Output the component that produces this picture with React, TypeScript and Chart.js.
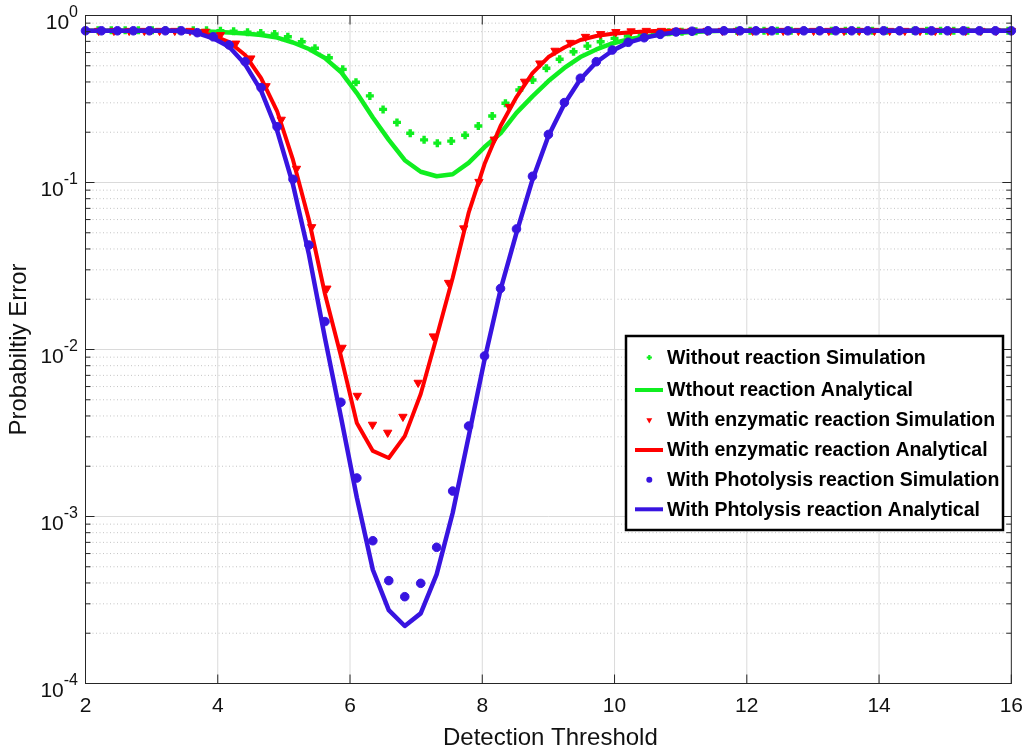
import { useEffect, useRef } from 'react';
import { Chart, registerables } from 'chart.js';

Chart.register(...registerables);

// ---------- data ----------
const thresholdsAnalytical = [
  2.000, 2.241, 2.483, 2.724, 2.966, 3.207, 3.448, 3.690, 3.931, 4.172,
  4.414, 4.655, 4.897, 5.138, 5.379, 5.621, 5.862, 6.103, 6.345, 6.586,
  6.828, 7.069, 7.310, 7.552, 7.793, 8.034, 8.276, 8.517, 8.759, 9.000,
  9.241, 9.483, 9.724, 9.966, 10.207, 10.448, 10.690, 10.931, 11.172, 11.414,
  11.655, 11.897, 12.138, 12.379, 12.621, 12.862, 13.103, 13.345, 13.586, 13.828,
  14.069, 14.310, 14.552, 14.793, 15.034, 15.276, 15.517, 15.759, 16.000,
];
const thresholdsSimPhotolysis = thresholdsAnalytical;
const thresholdsSimNoReaction = [
  2.19, 2.39, 2.60, 2.80, 3.01, 3.21, 3.42, 3.63, 3.83, 4.04,
  4.24, 4.45, 4.65, 4.86, 5.06, 5.27, 5.47, 5.68, 5.89, 6.09,
  6.30, 6.50, 6.71, 6.91, 7.12, 7.32, 7.53, 7.74, 7.94, 8.15,
  8.35, 8.56, 8.76, 8.97, 9.17, 9.38, 9.59, 9.79, 10.00, 10.20,
  10.41, 10.61, 10.82, 11.02, 11.23, 11.43, 11.64, 11.85, 12.05, 12.26,
  12.46, 12.67, 12.87, 13.08, 13.28, 13.49, 13.69, 13.90, 14.11, 14.31,
  14.52, 14.72, 14.93, 15.13, 15.34, 15.54, 15.75, 15.95,
];
const thresholdsSimEnzymatic = [
  2.20, 2.43, 2.66, 2.89, 3.12, 3.35, 3.58, 3.81, 4.04, 4.27,
  4.50, 4.73, 4.96, 5.19, 5.42, 5.65, 5.88, 6.11, 6.34, 6.57,
  6.80, 7.03, 7.26, 7.49, 7.72, 7.95, 8.18, 8.41, 8.64, 8.87,
  9.10, 9.33, 9.56, 9.79, 10.02, 10.25, 10.48, 10.71, 10.94, 11.17,
  11.40, 11.63, 11.86, 12.09, 12.32, 12.55, 12.78, 13.01, 13.24, 13.47,
  13.70, 13.93, 14.16, 14.39, 14.62, 14.85, 15.08, 15.31, 15.54, 15.77,
  16.00,
];

const simNoReaction = [
  0.815, 0.815, 0.815, 0.815, 0.815, 0.815, 0.815, 0.815, 0.815, 0.81,
  0.805, 0.795, 0.785, 0.775, 0.746, 0.697, 0.636, 0.559, 0.476, 0.398,
  0.330, 0.274, 0.229, 0.197, 0.180, 0.172, 0.177, 0.192, 0.218, 0.250,
  0.298, 0.358, 0.411, 0.483, 0.547, 0.607, 0.656, 0.697, 0.730, 0.754,
  0.772, 0.785, 0.795, 0.800, 0.805, 0.81, 0.81, 0.81, 0.81, 0.81,
  0.81, 0.81, 0.81, 0.81, 0.81, 0.81, 0.81, 0.81, 0.81, 0.81,
  0.81, 0.81, 0.81, 0.81, 0.81, 0.81, 0.81, 0.81,
];
const anaNoReaction = [
  0.81, 0.81, 0.81, 0.81, 0.81, 0.81, 0.81, 0.805, 0.80, 0.79,
  0.78, 0.764, 0.738, 0.689, 0.63, 0.556, 0.459, 0.343, 0.245, 0.180,
  0.136, 0.116, 0.109, 0.112, 0.131, 0.163, 0.197, 0.261, 0.328, 0.405,
  0.485, 0.564, 0.626, 0.68, 0.72, 0.746, 0.77, 0.786, 0.797, 0.805,
  0.81, 0.81, 0.81, 0.81, 0.81, 0.81, 0.81, 0.81, 0.81, 0.81,
  0.81, 0.81, 0.81, 0.81, 0.81, 0.81, 0.81, 0.81, 0.81,
];
const simEnzymatic = [
  0.81, 0.81, 0.81, 0.81, 0.81, 0.81, 0.81, 0.80, 0.764, 0.680,
  0.554, 0.378, 0.238, 0.121, 0.0541, 0.0232, 0.01026, 0.00529, 0.00355, 0.00318,
  0.00396, 0.00633, 0.0120, 0.0251, 0.0532, 0.101, 0.181, 0.284, 0.402, 0.517,
  0.616, 0.687, 0.746, 0.775, 0.797, 0.805, 0.81, 0.81, 0.81, 0.81,
  0.81, 0.81, 0.81, 0.81, 0.81, 0.81, 0.81, 0.81, 0.81, 0.81,
  0.81, 0.81, 0.81, 0.81, 0.81, 0.81, 0.81, 0.81, 0.81, 0.81,
  0.81,
];
const anaEnzymatic = [
  0.81, 0.81, 0.81, 0.81, 0.81, 0.81, 0.81, 0.796, 0.759, 0.694,
  0.580, 0.422, 0.268, 0.1364, 0.0596, 0.0215, 0.00914, 0.00363, 0.00247, 0.00224,
  0.00303, 0.00542, 0.01188, 0.0268, 0.0657, 0.129, 0.218, 0.325, 0.452, 0.564,
  0.643, 0.713, 0.754, 0.777, 0.791, 0.802, 0.81, 0.81, 0.81, 0.81,
  0.81, 0.81, 0.81, 0.81, 0.81, 0.81, 0.81, 0.81, 0.81, 0.81,
  0.81, 0.81, 0.81, 0.81, 0.81, 0.81, 0.81, 0.81, 0.81,
];
const simPhotolysis = [
  0.81, 0.81, 0.81, 0.81, 0.81, 0.81, 0.81, 0.789, 0.746, 0.666,
  0.529, 0.370, 0.216, 0.1045, 0.0422, 0.0147, 0.00483, 0.0017, 0.000716, 0.000413,
  0.000331, 0.000398, 0.000654, 0.00142, 0.00348, 0.00914, 0.0232, 0.0527, 0.109, 0.194,
  0.301, 0.421, 0.529, 0.621, 0.691, 0.736, 0.771, 0.797, 0.805, 0.81,
  0.81, 0.81, 0.81, 0.81, 0.81, 0.81, 0.81, 0.81, 0.81, 0.81,
  0.81, 0.81, 0.81, 0.81, 0.81, 0.81, 0.81, 0.81, 0.81,
];
const anaPhotolysis = [
  0.81, 0.81, 0.81, 0.81, 0.81, 0.81, 0.81, 0.785, 0.73, 0.65,
  0.51, 0.355, 0.205, 0.097, 0.037, 0.0117, 0.00396, 0.0013, 0.00048, 0.000275,
  0.000221, 0.000263, 0.00045, 0.00105, 0.0030, 0.0087, 0.0228, 0.050, 0.104, 0.190,
  0.295, 0.415, 0.525, 0.615, 0.688, 0.735, 0.77, 0.795, 0.805, 0.81,
  0.81, 0.81, 0.81, 0.81, 0.81, 0.81, 0.81, 0.81, 0.81, 0.81,
  0.81, 0.81, 0.81, 0.81, 0.81, 0.81, 0.81, 0.81, 0.81,
];

const xTicks = [2, 4, 6, 8, 10, 12, 14, 16];
const yDecades = [1, 0.1, 0.01, 0.001, 0.0001];
const yExponents = ['0', '-1', '-2', '-3', '-4'];
const yMinorMultipliers = [2, 3, 4, 5, 6, 7, 8, 9];
const legendLabels = [
  'Without reaction Simulation',
  'Wthout reaction Analytical',
  'With enzymatic reaction Simulation',
  'With enzymatic reaction Analytical',
  'With Photolysis reaction Simulation',
  'With Phtolysis reaction Analytical',
];
const xTitle = 'Detection Threshold';
const yTitle = 'Probabiltiy Error';

// ---------- style ----------
const GREEN = '#10ee20';
const RED = '#ff0000';
const BLUE = '#3814e0';
const FONT = "'Liberation Sans', Arial, Helvetica, sans-serif";
const AXIS = '#262626';

const toPoints = (xs: number[], ys: number[]) => xs.map((x, i) => ({ x, y: ys[i] }));

const decorPlugin = {
  id: 'matlabDecor',
  beforeDatasetsDraw(chart: any) {
    const { ctx, chartArea: a, scales } = chart;
    const xs = scales.x;
    const ys = scales.y;
    ctx.save();
    ctx.lineWidth = 1;
    ctx.strokeStyle = '#c4c4c4';
    ctx.setLineDash([1, 2.5]);
    for (const d of yDecades.slice(1)) {
      for (const m of yMinorMultipliers) {
        const y = ys.getPixelForValue(d * m);
        ctx.beginPath();
        ctx.moveTo(a.left, y);
        ctx.lineTo(a.right, y);
        ctx.stroke();
      }
    }
    ctx.setLineDash([]);
    ctx.strokeStyle = '#dadada';
    for (const t of xTicks.slice(1, -1)) {
      const x = xs.getPixelForValue(t);
      ctx.beginPath();
      ctx.moveTo(x, a.top);
      ctx.lineTo(x, a.bottom);
      ctx.stroke();
    }
    for (const d of yDecades.slice(1, -1)) {
      const y = ys.getPixelForValue(d);
      ctx.beginPath();
      ctx.moveTo(a.left, y);
      ctx.lineTo(a.right, y);
      ctx.stroke();
    }
    ctx.restore();
  },
  afterDatasetsDraw(chart: any) {
    const { ctx, chartArea: a, scales } = chart;
    const xs = scales.x;
    const ys = scales.y;
    ctx.save();
    // axes box
    ctx.strokeStyle = AXIS;
    ctx.lineWidth = 1;
    ctx.strokeRect(a.left, a.top, a.right - a.left, a.bottom - a.top);
    // inward ticks
    const major = 9;
    const minor = 5;
    ctx.beginPath();
    for (const t of xTicks) {
      const x = xs.getPixelForValue(t);
      ctx.moveTo(x, a.bottom);
      ctx.lineTo(x, a.bottom - major);
      ctx.moveTo(x, a.top);
      ctx.lineTo(x, a.top + major);
    }
    for (const d of yDecades) {
      const y = ys.getPixelForValue(d);
      ctx.moveTo(a.left, y);
      ctx.lineTo(a.left + major, y);
      ctx.moveTo(a.right, y);
      ctx.lineTo(a.right - major, y);
    }
    for (const d of yDecades.slice(1)) {
      for (const m of yMinorMultipliers) {
        const y = ys.getPixelForValue(d * m);
        ctx.moveTo(a.left, y);
        ctx.lineTo(a.left + minor, y);
        ctx.moveTo(a.right, y);
        ctx.lineTo(a.right - minor, y);
      }
    }
    ctx.stroke();

    // y tick labels 10^n
    ctx.fillStyle = '#111';
    ctx.textBaseline = 'alphabetic';
    ctx.textAlign = 'left';
    const rightEdge = a.left - 7.5;
    yDecades.forEach((d, i) => {
      const y = ys.getPixelForValue(d);
      ctx.font = `16px ${FONT}`;
      const sup = yExponents[i];
      const supW = ctx.measureText(sup).width;
      ctx.fillText(sup, rightEdge - supW, y + 1);
      ctx.font = `21px ${FONT}`;
      const baseW = ctx.measureText('10').width;
      ctx.fillText('10', rightEdge - supW - baseW, y + 13);
    });

    // axis titles
    ctx.font = `24px ${FONT}`;
    ctx.fillStyle = '#111';
    ctx.textAlign = 'center';
    ctx.textBaseline = 'alphabetic';
    ctx.fillText(xTitle, (a.left + a.right) / 2 + 2, 745);
    ctx.save();
    ctx.translate(19, (a.top + a.bottom) / 2);
    ctx.rotate(-Math.PI / 2);
    ctx.textBaseline = 'middle';
    ctx.fillText(yTitle, 0, 0);
    ctx.restore();

    // legend
    const L = { left: 626, top: 336, right: 1003, bottom: 530 };
    ctx.fillStyle = '#ffffff';
    ctx.fillRect(L.left, L.top, L.right - L.left, L.bottom - L.top);
    ctx.strokeStyle = '#000';
    ctx.lineWidth = 2.5;
    ctx.strokeRect(L.left, L.top, L.right - L.left, L.bottom - L.top);
    const rows = [357.5, 390, 420, 450, 479.7, 509.3];
    const colors = [GREEN, GREEN, RED, RED, BLUE, BLUE];
    const symX = 649.3;
    rows.forEach((ry, i) => {
      const c = colors[i];
      if (i % 2 === 1) {
        ctx.strokeStyle = c;
        ctx.lineWidth = 4;
        ctx.beginPath();
        ctx.moveTo(635, ry);
        ctx.lineTo(663, ry);
        ctx.stroke();
      } else if (i === 0) {
        ctx.strokeStyle = c;
        ctx.lineWidth = 2.2;
        ctx.beginPath();
        ctx.moveTo(symX - 2.6, ry);
        ctx.lineTo(symX + 2.6, ry);
        ctx.moveTo(symX, ry - 2.6);
        ctx.lineTo(symX, ry + 2.6);
        ctx.stroke();
      } else if (i === 2) {
        ctx.fillStyle = c;
        const r = 3.4;
        ctx.beginPath();
        ctx.moveTo(symX - 0.866 * r, ry - r / 2);
        ctx.lineTo(symX + 0.866 * r, ry - r / 2);
        ctx.lineTo(symX, ry + r);
        ctx.closePath();
        ctx.fill();
      } else {
        ctx.fillStyle = c;
        ctx.beginPath();
        ctx.arc(symX, ry, 3, 0, Math.PI * 2);
        ctx.fill();
      }
      ctx.fillStyle = '#000';
      ctx.font = `bold 19.5px ${FONT}`;
      ctx.textAlign = 'left';
      ctx.textBaseline = 'middle';
      ctx.fillText(legendLabels[i], 667, ry + 1);
    });
    ctx.restore();
  },
};

export default function App() {
  const ref = useRef<HTMLCanvasElement>(null);
  useEffect(() => {
    document.body.style.margin = '0';
    const canvas = ref.current;
    if (!canvas) return;
    const chart = new Chart(canvas, {
      type: 'scatter',
      data: {
        datasets: [
          {
            label: legendLabels[5],
            data: toPoints(thresholdsAnalytical, anaPhotolysis),
            showLine: true, borderColor: BLUE, backgroundColor: BLUE, borderWidth: 4.5,
            pointRadius: 0, borderJoinStyle: 'round', order: 1, clip: false,
          },
          {
            label: legendLabels[4],
            data: toPoints(thresholdsSimPhotolysis, simPhotolysis),
            showLine: false, pointStyle: 'circle', pointRadius: 4.3,
            backgroundColor: BLUE, borderColor: BLUE, borderWidth: 1, order: 2, clip: false,
          },
          {
            label: legendLabels[3],
            data: toPoints(thresholdsAnalytical, anaEnzymatic),
            showLine: true, borderColor: RED, backgroundColor: RED, borderWidth: 4,
            pointRadius: 0, borderJoinStyle: 'round', order: 3, clip: false,
          },
          {
            label: legendLabels[2],
            data: toPoints(thresholdsSimEnzymatic, simEnzymatic),
            showLine: false, pointStyle: 'triangle', rotation: 180, pointRadius: 4.8,
            backgroundColor: RED, borderColor: RED, borderWidth: 1, order: 4, clip: false,
          },
          {
            label: legendLabels[1],
            data: toPoints(thresholdsAnalytical, anaNoReaction),
            showLine: true, borderColor: GREEN, backgroundColor: GREEN, borderWidth: 4.5,
            pointRadius: 0, borderJoinStyle: 'round', order: 5, clip: false,
          },
          {
            label: legendLabels[0],
            data: toPoints(thresholdsSimNoReaction, simNoReaction),
            showLine: false, pointStyle: 'cross', pointRadius: 4,
            backgroundColor: GREEN, borderColor: GREEN, borderWidth: 3.4, order: 6, clip: false,
          },
        ],
      },
      options: {
        responsive: false,
        animation: false,
        devicePixelRatio: 1,
        events: [],
        layout: { padding: { left: 0, right: 18, top: 15.5, bottom: 0 } },
        plugins: { legend: { display: false }, tooltip: { enabled: false } },
        scales: {
          x: {
            type: 'linear', min: 2, max: 16,
            grid: { display: false, drawTicks: false },
            border: { display: false },
            afterBuildTicks: (s: any) => { s.ticks = xTicks.map((v) => ({ value: v })); },
            ticks: {
              padding: 10, color: '#111', maxRotation: 0, autoSkip: false,
              font: { family: FONT, size: 21 },
            },
            afterFit: (s: any) => { s.height = 66.5; },
          },
          y: {
            type: 'logarithmic', min: 1e-4, max: 1,
            grid: { display: false, drawTicks: false },
            border: { display: false },
            ticks: { display: false },
            afterFit: (s: any) => { s.width = 85.5; },
          },
        },
      },
      plugins: [decorPlugin],
    } as any);
    return () => chart.destroy();
  }, []);
  return (
    <div style={{ width: 1033, height: 750 }}>
      <canvas ref={ref} width={1033} height={750} style={{ display: 'block' }} />
    </div>
  );
}
